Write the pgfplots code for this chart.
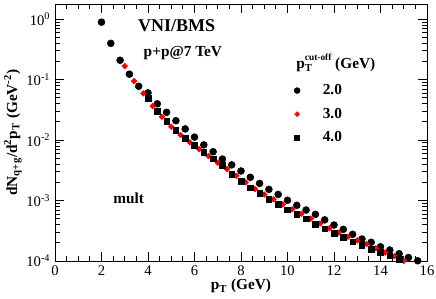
\documentclass[border=0pt]{standalone}
\usepackage{fontspec}
\setmainfont{Liberation Serif}
\usepackage{pgfplots}
\pgfplotsset{compat=1.18}
\begin{document}
\begin{tikzpicture}
\pgfplotsset{lgd/.style={legend image code/.code={\draw[##1,/tikz/mark size=#1] plot coordinates {(0.35cm,0cm)}; \path (0cm,0cm) (0.95cm,0cm);}}}
\begin{axis}[
 scale only axis, width=279pt, height=192.75pt,
 xmin=0, xmax=16, ymode=log, ymin=1e-4, ymax=1.78,
 xtick={0,2,...,16}, minor x tick num=3,
 ytick={1e-4,1e-3,1e-2,1e-1,1},
 yticklabel={\pgfmathtruncatemacro{\e}{round(\tick/2.302585093)}10\textsuperscript{\e}},
 tick align=inside, major tick length=7pt, minor tick length=3.75pt,
 axis line style={line width=0.6pt}, tick style={black, line width=0.6pt},
 tick label style={font=\fontsize{11}{12}\selectfont},
 /pgf/number format/assume math mode=true,
 xlabel={\textbf{p\textsubscript{T} (GeV)}},
 ylabel={\textbf{dN\textsubscript{q+g}/d\textsuperscript{2}p\textsubscript{T} (GeV\textsuperscript{-2})}},
 label style={font=\bfseries\fontsize{11.5}{13}\selectfont},
 xlabel style={at={(axis description cs:0.5,-0.097)}, anchor=center},
 ylabel style={at={(axis description cs:-0.113,0.5)}, anchor=center},
 clip=false,
 legend style={at={(axis cs:9.82,0.0269)}, anchor=west, draw=none, fill=none, font=\bfseries\fontsize{11.5}{13}\selectfont, row sep=4.5pt, inner sep=0pt},
]
\addplot[only marks, mark=*, mark size=2.6pt, black, lgd=2.2pt] coordinates {
(2.0,0.891)(2.4,0.398)(2.8,0.209)(3.2,0.123)(3.6,0.0776)(4.0,0.0603)(4.4,0.0398)(4.8,0.0288)(5.2,0.0209)(5.6,0.0153)(6.0,0.0112)(6.4,0.00832)(6.8,0.00641)(7.2,0.00485)(7.6,0.00389)(8.0,0.00308)(8.4,0.00242)(8.8,0.00192)(9.2,0.00153)(9.6,0.00126)(10.0,0.00101)(10.4,0.000834)(10.8,0.000697)(11.2,0.000592)(11.6,0.000479)(12.0,0.000394)(12.4,0.000334)(12.8,0.000276)(13.2,0.000231)(13.6,0.000204)(14.0,0.000172)(14.4,0.000152)(14.8,0.000132)(15.2,0.000114)(15.6,0.000101)
};
\addlegendentry{2.0}
\addplot[only marks, mark=square*, mark size=1.5pt, red, mark options={rotate=45, draw=red, fill=red}, lgd=1.3pt] coordinates {
(3.0,0.167)(3.4,0.0944)(3.8,0.0592)(4.2,0.0365)(4.6,0.0243)(5.0,0.0166)(5.4,0.0121)(5.8,0.00916)(6.2,0.00708)(6.6,0.00543)(7.0,0.00422)(7.4,0.00331)(7.8,0.00257)(8.2,0.00200)(8.6,0.00155)(9.0,0.00126)(9.4,0.00105)(9.8,0.000865)(10.2,0.000716)(10.6,0.000603)(11.0,0.000501)(11.4,0.000417)(11.8,0.000347)(12.2,0.000295)(12.6,0.000251)(13.0,0.000219)(13.4,0.000191)(13.8,0.000162)(14.2,0.000138)(14.6,0.000120)(15.0,0.000100)
};
\addlegendentry{3.0}
\addplot[only marks, mark=square*, mark size=2.1pt, black, lgd=1.8pt] coordinates {
(4.0,0.0489)(4.4,0.0301)(4.8,0.0206)(5.2,0.0146)(5.6,0.0107)(6.0,0.00813)(6.4,0.00631)(6.8,0.00490)(7.2,0.00380)(7.6,0.00275)(8.0,0.00209)(8.4,0.00162)(8.8,0.00132)(9.2,0.00105)(9.6,0.000865)(10.0,0.000708)(10.4,0.000592)(10.8,0.000501)(11.2,0.000407)(11.6,0.000339)(12.0,0.000288)(12.4,0.000245)(12.8,0.000209)(13.2,0.000182)(13.6,0.000158)(14.0,0.000141)(14.4,0.000123)(14.8,0.000107)
};
\addlegendentry{4.0}
\node[font=\bfseries\fontsize{13.5}{15}\selectfont] at (axis cs:5.23,0.79) {VNI/BMS};
\node[font=\bfseries\fontsize{11.5}{13}\selectfont] at (axis cs:5.5,0.275) {p+p@7 TeV};
\node[font=\bfseries\fontsize{11.5}{13}\selectfont] at (axis cs:12.08,0.19) {p\rlap{\raisebox{-0.45ex}{\fontsize{8}{9}\selectfont T}}\raisebox{1.1ex}{\fontsize{7}{8}\selectfont cut-off} (GeV)};
\node[font=\bfseries\fontsize{11.5}{13}\selectfont] at (axis cs:3.17,0.0011) {mult};
\end{axis}
\pgfresetboundingbox
\path ([shift={(-41.25pt,-27.75pt)}]current axis.south west) rectangle ([shift={(6.75pt,3pt)}]current axis.north east);
\end{tikzpicture}
\end{document}
